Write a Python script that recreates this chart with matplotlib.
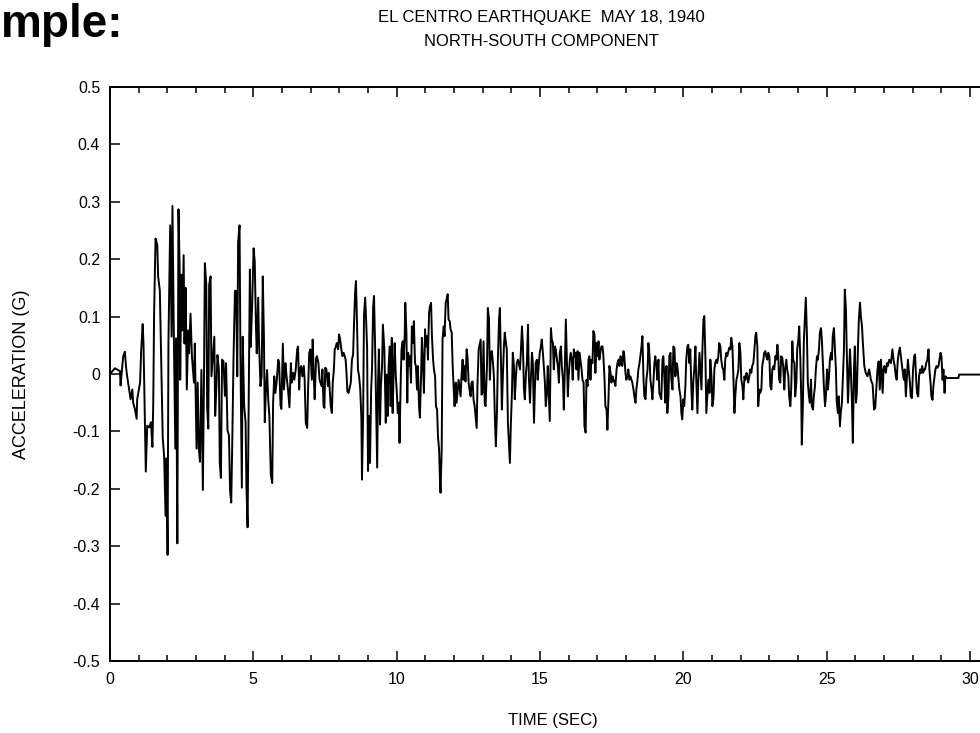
import matplotlib
matplotlib.use("Agg")
import matplotlib.pyplot as plt
from matplotlib.ticker import MultipleLocator

#====================================================================================================
# El Centro 1940, N-S component: turning points (time in s, acceleration in g)

t_0 = [0.00, 0.17, 0.35, 0.37, 0.46, 0.52, 0.56, 0.60, 0.67, 0.72, 0.78, 0.81, 0.87, 0.93, 0.95,
       1.01, 1.05, 1.09, 1.14, 1.17, 1.21, 1.25, 1.30, 1.37, 1.43, 1.48, 1.51, 1.54, 1.59, 1.65,
       1.68, 1.74, 1.79, 1.84, 1.89, 1.94, 1.97, 2.01, 2.04, 2.10, 2.15, 2.18, 2.23, 2.28, 2.31,
       2.35, 2.39, 2.43, 2.45, 2.49, 2.52, 2.57, 2.60, 2.64, 2.68, 2.73, 2.76, 2.81, 2.86, 2.93]
a_0 = [0.000, 0.010, 0.005, -0.020, 0.030, 0.039, 0.013, -0.004, -0.027, -0.044, -0.027, -0.050, -0.061, -0.078, -0.044,
       -0.027, -0.015, 0.042, 0.087, 0.053, -0.061, -0.170, -0.090, -0.093, -0.084, -0.127, -0.050, 0.107, 0.236, 0.225,
       0.170, 0.145, 0.019, -0.110, -0.144, -0.247, -0.147, -0.315, 0.056, 0.259, 0.065, 0.293, 0.059, -0.130, 0.062,
       -0.295, 0.287, 0.187, -0.010, 0.173, 0.076, 0.207, 0.053, 0.150, -0.027, 0.076, 0.036, 0.105, 0.030, -0.015]

t_3 = [2.96, 3.02, 3.06, 3.10, 3.14, 3.19, 3.24, 3.28, 3.31, 3.36, 3.39, 3.43, 3.46, 3.51, 3.54,
       3.60, 3.64, 3.67, 3.71, 3.75, 3.80, 3.83, 3.87, 3.91, 3.96, 4.01, 4.05, 4.10, 4.15, 4.19,
       4.23, 4.27, 4.31, 4.36, 4.40, 4.44, 4.47, 4.52, 4.55, 4.60, 4.63, 4.68, 4.73, 4.76, 4.80,
       4.84, 4.88, 4.91, 4.96, 5.01, 5.05, 5.09, 5.12, 5.17, 5.20, 5.25, 5.29, 5.33, 5.37, 5.40,
       5.44, 5.48, 5.52, 5.56, 5.61, 5.66, 5.69, 5.73, 5.77, 5.82, 5.87, 5.90, 5.95, 5.98, 6.03,
       6.07, 6.12, 6.16, 6.21, 6.26]
a_3 = [0.053, -0.130, -0.015, -0.130, -0.153, 0.007, -0.202, -0.004, 0.193, 0.156, -0.058, -0.095, 0.156, 0.170, -0.004,
       0.036, 0.065, -0.073, -0.027, 0.033, 0.007, -0.155, -0.181, 0.025, 0.022, -0.038, 0.019, -0.098, -0.107, -0.204,
       -0.224, -0.107, 0.030, 0.145, 0.145, -0.004, 0.230, 0.259, 0.036, -0.198, 0.065, -0.055, -0.084, -0.195, -0.267,
       -0.052, 0.182, 0.047, 0.122, 0.219, 0.196, 0.087, 0.036, 0.133, 0.053, -0.021, -0.004, 0.170, 0.065, -0.084,
       -0.027, 0.007, -0.044, -0.073, -0.175, -0.190, -0.050, -0.004, -0.033, -0.010, 0.025, 0.019, -0.055, -0.061, 0.053,
       -0.027, 0.019, -0.004, -0.027, -0.058]

t_6 = [6.31, 6.34, 6.39, 6.43, 6.48, 6.53, 6.56, 6.60, 6.63, 6.67, 6.71, 6.76, 6.79, 6.83, 6.88,
       6.91, 6.95, 6.99, 7.04, 7.07, 7.11, 7.14, 7.19, 7.22, 7.27, 7.31, 7.34, 7.38, 7.41, 7.45,
       7.48, 7.51, 7.55, 7.60, 7.63, 7.67, 7.70, 7.74, 7.77, 7.81, 7.84, 7.87, 7.91, 7.96, 7.99,
       8.03, 8.07, 8.11, 8.15, 8.19, 8.22, 8.25, 8.28, 8.32, 8.36, 8.40, 8.44, 8.48, 8.51, 8.55,
       8.58, 8.62, 8.65, 8.69, 8.73, 8.77, 8.79, 8.83, 8.86, 8.90, 8.93, 8.97, 9.00, 9.04, 9.07,
       9.11, 9.14, 9.18, 9.21, 9.25, 9.28, 9.32, 9.35, 9.38, 9.42, 9.45, 9.49, 9.52, 9.57]
a_6 = [0.019, -0.015, 0.002, -0.010, 0.008, 0.043, 0.048, -0.027, 0.008, 0.014, -0.004, 0.014, -0.010, -0.085, -0.094,
       -0.027, 0.037, 0.043, -0.010, 0.060, -0.004, -0.044, 0.028, 0.031, 0.019, -0.010, -0.015, -0.021, 0.008, -0.056,
       -0.059, 0.011, 0.008, -0.021, 0.002, -0.033, -0.056, -0.068, -0.015, 0.008, 0.043, 0.046, 0.054, 0.043, 0.069,
       0.060, 0.043, 0.031, 0.037, 0.031, 0.025, 0.002, -0.030, -0.033, -0.024, -0.015, 0.025, 0.034, 0.083, 0.141,
       0.162, 0.083, 0.008, -0.004, -0.027, -0.079, -0.184, -0.073, 0.101, 0.133, 0.101, 0.043, -0.169, -0.073, -0.155,
       -0.027, 0.008, 0.118, 0.136, 0.043, -0.050, -0.163, -0.015, 0.043, -0.088, -0.021, 0.014, 0.086, 0.043]

t_9 = [9.62, 9.65, 9.69, 9.72, 9.76, 9.79, 9.83, 9.86, 9.90, 9.93, 9.97, 10.00, 10.04, 10.07, 10.10,
       10.14, 10.17, 10.21, 10.24, 10.28, 10.30, 10.34, 10.37, 10.40, 10.43, 10.46, 10.50, 10.53, 10.57, 10.60,
       10.64, 10.67, 10.71, 10.74, 10.78, 10.81, 10.85, 10.88, 10.92, 10.95, 10.99, 11.02, 11.06, 11.09, 11.13,
       11.16, 11.20, 11.23, 11.27, 11.30, 11.34, 11.37, 11.41, 11.44, 11.48, 11.51, 11.53, 11.57, 11.60, 11.64,
       11.67, 11.71, 11.74, 11.78, 11.81, 11.85, 11.88, 11.92, 11.95, 11.99, 12.02, 12.06, 12.09, 12.13, 12.16,
       12.20, 12.23, 12.26, 12.30, 12.33, 12.37, 12.40, 12.44, 12.47, 12.51, 12.54, 12.58, 12.61, 12.65, 12.68,
       12.72, 12.75, 12.79, 12.82, 12.86]
a_9 = [-0.085, -0.001, -0.073, 0.014, 0.048, -0.056, 0.063, -0.068, 0.014, 0.054, -0.004, -0.027, -0.068, -0.050, -0.120,
       -0.015, 0.043, 0.057, 0.025, 0.066, 0.124, 0.072, -0.050, 0.037, 0.014, 0.031, -0.015, 0.083, 0.054, 0.092,
       0.019, 0.014, -0.027, 0.014, -0.056, -0.076, -0.004, 0.063, 0.014, -0.033, 0.078, 0.048, 0.066, 0.025, 0.107,
       0.118, 0.124, 0.066, 0.025, 0.008, -0.004, -0.056, -0.062, -0.108, -0.132, -0.184, -0.207, -0.132, 0.060, 0.083,
       0.066, 0.124, 0.130, 0.139, 0.095, 0.092, 0.078, 0.072, 0.019, -0.027, -0.056, -0.015, -0.050, -0.027, -0.010,
       -0.027, -0.039, -0.004, 0.025, -0.010, 0.014, -0.013, 0.043, 0.031, -0.015, -0.027, -0.039, -0.015, -0.013, -0.044,
       -0.056, -0.073, -0.094, -0.015, 0.043]

t_13 = [12.93, 12.96, 12.99, 13.03, 13.07, 13.10, 13.15, 13.18, 13.22, 13.25, 13.29, 13.32, 13.36, 13.39, 13.43,
        13.46, 13.50, 13.53, 13.57, 13.60, 13.64, 13.67, 13.70, 13.74, 13.77, 13.81, 13.84, 13.88, 13.91, 13.95,
        13.98, 14.02, 14.05, 14.09, 14.12, 14.16, 14.19, 14.23, 14.26, 14.30, 14.33, 14.37, 14.40, 14.44, 14.47,
        14.51, 14.54, 14.58, 14.61, 14.65, 14.68, 14.72, 14.75, 14.79, 14.82, 14.85, 14.89, 14.92, 14.96, 14.99,
        15.03, 15.06, 15.10, 15.13, 15.17, 15.20, 15.24, 15.27, 15.31, 15.34, 15.38, 15.41, 15.45, 15.48, 15.52,
        15.55, 15.59, 15.62, 15.66, 15.69, 15.73, 15.76, 15.80, 15.83, 15.87, 15.90, 15.94, 15.97, 16.00, 16.04,
        16.07, 16.11, 16.14, 16.18, 16.21]
a_13 = [0.060, -0.036, -0.033, 0.057, -0.050, -0.056, 0.014, 0.115, 0.095, -0.010, 0.037, 0.040, 0.019, -0.004, -0.085,
        -0.126, -0.062, 0.025, 0.095, 0.115, 0.019, -0.062, -0.010, 0.048, 0.072, 0.054, 0.043, -0.085, -0.114, -0.155,
        -0.091, -0.033, 0.037, 0.014, -0.044, -0.004, 0.019, 0.025, 0.019, 0.008, 0.037, 0.083, 0.054, -0.027, -0.044,
        0.002, 0.019, 0.086, -0.004, -0.050, -0.010, 0.037, 0.019, -0.085, -0.027, 0.019, 0.025, -0.010, 0.019, 0.037,
        0.048, 0.060, 0.037, 0.014, -0.015, -0.056, -0.033, 0.014, -0.044, -0.082, 0.080, 0.060, 0.054, 0.008, 0.048,
        0.043, 0.025, 0.014, -0.015, 0.037, 0.048, 0.014, -0.010, -0.062, 0.019, 0.095, 0.014, -0.039, -0.004, 0.025,
        0.037, 0.025, -0.010, 0.043, 0.031]

t_16 = [16.24, 16.27, 16.31, 16.34, 16.38, 16.41, 16.45, 16.48, 16.52, 16.55, 16.59, 16.62, 16.66, 16.69, 16.72,
        16.76, 16.79, 16.83, 16.86, 16.90, 16.93, 16.97, 17.00, 17.04, 17.07, 17.11, 17.14, 17.18, 17.21, 17.25,
        17.28, 17.32, 17.35, 17.39, 17.42, 17.46, 17.49, 17.53, 17.56, 17.60, 17.63, 17.67, 17.70, 17.74, 17.77,
        17.81, 17.84, 17.87, 17.91, 17.94, 17.98, 18.01, 18.05, 18.08, 18.12, 18.15, 18.19, 18.22, 18.26, 18.29,
        18.33, 18.36, 18.40, 18.43, 18.47, 18.50, 18.54, 18.57, 18.61, 18.64, 18.68, 18.71, 18.75, 18.78, 18.82,
        18.85, 18.89, 18.92, 18.96, 18.99, 19.02, 19.06, 19.09, 19.13, 19.16, 19.20, 19.23, 19.27, 19.30, 19.34,
        19.37, 19.41, 19.44, 19.48, 19.51, 19.55, 19.58, 19.62, 19.65, 19.69]
a_16 = [0.037, 0.008, 0.040, -0.010, 0.037, 0.025, 0.008, -0.010, -0.015, -0.091, -0.102, -0.010, -0.021, 0.025, 0.031,
        -0.010, 0.025, 0.019, 0.075, 0.069, 0.002, 0.054, 0.031, 0.057, 0.025, 0.040, 0.048, 0.048, 0.031, -0.010,
        -0.056, -0.062, -0.097, -0.039, 0.014, 0.002, -0.015, -0.004, -0.010, -0.015, -0.021, 0.008, 0.019, 0.025, 0.014,
        0.031, 0.019, 0.014, 0.040, 0.031, 0.002, -0.010, -0.004, 0.008, -0.010, -0.004, -0.010, -0.015, -0.027, -0.039,
        -0.050, -0.027, -0.010, 0.008, 0.019, 0.031, 0.048, 0.066, -0.010, -0.039, -0.044, -0.010, 0.008, 0.054, 0.031,
        -0.010, -0.027, -0.044, -0.010, 0.019, 0.031, 0.014, -0.010, 0.025, -0.033, -0.039, -0.044, 0.025, 0.031, -0.010,
        -0.050, 0.014, -0.068, -0.039, 0.031, 0.037, -0.010, -0.027, 0.048, 0.045]

t_20 = [19.72, 19.76, 19.79, 19.83, 19.86, 19.90, 19.93, 19.96, 20.00, 20.03, 20.07, 20.10, 20.14, 20.17, 20.21,
        20.24, 20.28, 20.31, 20.35, 20.38, 20.42, 20.45, 20.49, 20.52, 20.56, 20.59, 20.63, 20.66, 20.70, 20.73,
        20.77, 20.80, 20.84, 20.87, 20.91, 20.94, 20.98, 21.01, 21.05, 21.08, 21.11, 21.15, 21.18, 21.22, 21.25,
        21.29, 21.32, 21.36, 21.39, 21.43, 21.46, 21.50, 21.53, 21.57, 21.60, 21.64, 21.67, 21.71, 21.74, 21.78,
        21.81, 21.85, 21.88, 21.92, 21.95, 21.99, 22.02, 22.06, 22.09, 22.13, 22.16, 22.20, 22.23, 22.26, 22.30,
        22.33, 22.37, 22.40, 22.44, 22.47, 22.51, 22.54, 22.58, 22.61, 22.65, 22.68, 22.72, 22.75, 22.79, 22.82,
        22.86, 22.89, 22.93, 22.96, 23.00]
a_20 = [-0.004, 0.019, 0.014, -0.010, -0.027, -0.039, -0.068, -0.079, -0.044, -0.056, -0.021, 0.025, 0.048, 0.051, 0.019,
        0.043, -0.027, -0.062, -0.010, 0.008, 0.048, -0.010, -0.068, -0.010, 0.037, 0.008, -0.027, 0.037, 0.095, 0.101,
        0.025, -0.068, -0.033, -0.010, -0.033, 0.025, -0.004, -0.056, -0.042, 0.008, 0.019, 0.025, 0.019, 0.031, 0.054,
        0.048, 0.025, 0.011, 0.008, -0.010, 0.025, 0.037, 0.031, 0.040, 0.046, 0.043, 0.063, 0.048, 0.002, -0.068,
        -0.039, -0.010, -0.004, 0.008, 0.054, 0.037, -0.010, -0.021, -0.044, -0.004, -0.010, 0.002, -0.004, -0.015, -0.004,
        0.008, 0.002, 0.014, 0.019, 0.037, 0.066, 0.072, 0.048, -0.056, -0.027, -0.033, -0.027, 0.014, 0.025, 0.037,
        0.040, 0.031, 0.025, 0.037, 0.031]

t_23 = [23.03, 23.07, 23.10, 23.14, 23.17, 23.21, 23.24, 23.28, 23.31, 23.34, 23.38, 23.41, 23.45, 23.48, 23.52,
        23.55, 23.59, 23.62, 23.66, 23.69, 23.73, 23.76, 23.80, 23.83, 23.87, 23.90, 23.94, 23.97, 24.01, 24.04,
        24.08, 24.11, 24.13, 24.17, 24.20, 24.24, 24.27, 24.31, 24.34, 24.38, 24.41, 24.45, 24.48, 24.52, 24.55,
        24.59, 24.62, 24.66, 24.69, 24.73, 24.76, 24.80, 24.83, 24.87, 24.90, 24.94, 24.97, 25.01, 25.04, 25.08,
        25.11, 25.15, 25.18, 25.21, 25.25, 25.28, 25.32, 25.35, 25.39, 25.42, 25.46, 25.49, 25.53, 25.56, 25.60,
        25.63, 25.67, 25.70, 25.74, 25.77, 25.81, 25.84, 25.88, 25.91, 25.95, 25.98, 26.02, 26.05, 26.09, 26.12,
        26.16, 26.19, 26.23, 26.26]
a_23 = [-0.021, -0.027, 0.008, 0.014, 0.008, 0.031, 0.025, 0.051, 0.031, -0.010, -0.015, 0.031, 0.028, 0.014, -0.027,
        0.008, 0.025, 0.008, -0.004, -0.039, -0.056, -0.027, 0.057, 0.025, 0.019, -0.039, -0.015, 0.043, 0.060, 0.083,
        0.025, -0.039, -0.123, -0.050, 0.054, 0.101, 0.133, 0.066, -0.015, -0.039, -0.050, -0.010, -0.056, -0.062, -0.039,
        -0.021, 0.008, 0.031, 0.025, 0.043, 0.072, 0.080, 0.060, 0.014, -0.021, -0.056, -0.039, 0.008, -0.027, -0.004,
        0.025, 0.037, 0.025, 0.066, 0.080, 0.048, 0.008, -0.050, -0.068, -0.039, -0.091, -0.068, -0.050, -0.010, 0.043,
        0.147, 0.112, 0.037, -0.050, -0.010, 0.043, 0.008, -0.050, -0.120, 0.008, 0.048, -0.050, -0.033, 0.048, 0.095,
        0.124, 0.101, 0.083, 0.054]

t_26 = [26.31, 26.36, 26.42, 26.48, 26.54, 26.60, 26.65, 26.69, 26.74, 26.77, 26.81, 26.85, 26.89, 26.95, 26.98,
        27.01, 27.06, 27.10, 27.13, 27.18, 27.24, 27.29, 27.33, 27.37, 27.41, 27.44, 27.48, 27.51, 27.55, 27.60,
        27.64, 27.69, 27.72, 27.76, 27.79, 27.83, 27.86, 27.90, 27.93, 27.97, 28.01, 28.05, 28.08, 28.12, 28.15,
        28.19, 28.22, 28.26, 28.29, 28.33, 28.36, 28.40, 28.43, 28.47, 28.51, 28.55, 28.58, 28.62, 28.65, 28.69,
        28.72, 28.76, 28.79, 28.83, 28.86, 28.90, 28.93, 28.97, 29.00, 29.04, 29.07, 29.11, 29.14, 29.18, 29.59,
        29.62, 31.20]
a_26 = [0.014, 0.002, -0.004, 0.008, -0.010, -0.018, -0.062, -0.059, -0.015, 0.008, 0.022, -0.027, 0.025, -0.033, 0.008,
        0.014, 0.002, 0.019, 0.014, 0.025, 0.019, 0.043, 0.025, 0.014, -0.004, -0.010, 0.025, 0.037, 0.046, 0.025,
        0.008, -0.010, 0.008, -0.039, -0.010, 0.025, 0.008, -0.015, -0.039, -0.042, 0.008, 0.031, 0.034, -0.010, -0.033,
        -0.039, -0.004, 0.008, 0.002, 0.014, 0.002, 0.008, 0.008, 0.019, 0.025, 0.043, 0.008, -0.015, -0.039, -0.045,
        -0.021, -0.004, 0.008, 0.014, 0.011, 0.014, 0.025, 0.037, 0.031, -0.010, 0.008, -0.033, -0.004, -0.007, -0.007,
        -0.001, -0.001]

x_ticks = [0, 5, 10, 15, 20, 25, 30]
x_tick_labels = ["0", "5", "10", "15", "20", "25", "30"]
y_ticks = [-0.5, -0.4, -0.3, -0.2, -0.1, 0.0, 0.1, 0.2, 0.3, 0.4, 0.5]
y_tick_labels = ["-0.5", "-0.4", "-0.3", "-0.2", "-0.1", "0", "0.1", "0.2", "0.3", "0.4", "0.5"]

#====================================================================================================

def main():

    plt.rcParams["font.family"] = ["Liberation Sans", "DejaVu Sans"]

    time  = t_0 + t_3 + t_6 + t_9 + t_13 + t_16 + t_20 + t_23 + t_26
    accel = a_0 + a_3 + a_6 + a_9 + a_13 + a_16 + a_20 + a_23 + a_26

    fig = plt.figure(figsize = (9.8, 7.33), dpi = 100)

    # axes run on past the right edge of the picture, as in the cropped slide
    ax = fig.add_axes([0.1122, 0.0982, 0.9128, 0.7831])
    ax.plot(time, accel, c = "black", lw = 1.4)

    ax.set_xlim(0, 31.2)
    ax.set_ylim(-0.5, 0.5)
    ax.set_xticks(x_ticks)
    ax.set_xticklabels(x_tick_labels)
    ax.set_yticks(y_ticks)
    ax.set_yticklabels(y_tick_labels)
    ax.xaxis.set_minor_locator(MultipleLocator(1))

    ax.tick_params(which = "both", direction = "in", top = True, right = True, width = 1.1, labelsize = 11.5)
    ax.tick_params(which = "major", length = 7)
    ax.tick_params(which = "minor", length = 4)
    ax.tick_params(axis = "x", pad = 8)
    ax.tick_params(axis = "y", pad = 7)
    for spine in ax.spines.values():
        spine.set_linewidth(1.4)

    # slide heading, cut off by the left edge of the screenshot
    fig.text(0.001, 0.9495, "mple:", ha = "left", va = "baseline", fontsize = 33, fontweight = "bold")

    fig.text(0.552, 0.9768, "EL CENTRO EARTHQUAKE  MAY 18, 1940", ha = "center", va = "center", fontsize = 12)
    fig.text(0.552, 0.944, "NORTH-SOUTH COMPONENT", ha = "center", va = "center", fontsize = 12)
    fig.text(0.0224, 0.4898, "ACCELERATION (G)", rotation = 90, ha = "center", va = "center", fontsize = 13)
    fig.text(0.5643, 0.0177, "TIME (SEC)", ha = "center", va = "center", fontsize = 12)

    fig.savefig("out.png", dpi = 100)

#====================================================================================================

if __name__ == "__main__":

    main()
